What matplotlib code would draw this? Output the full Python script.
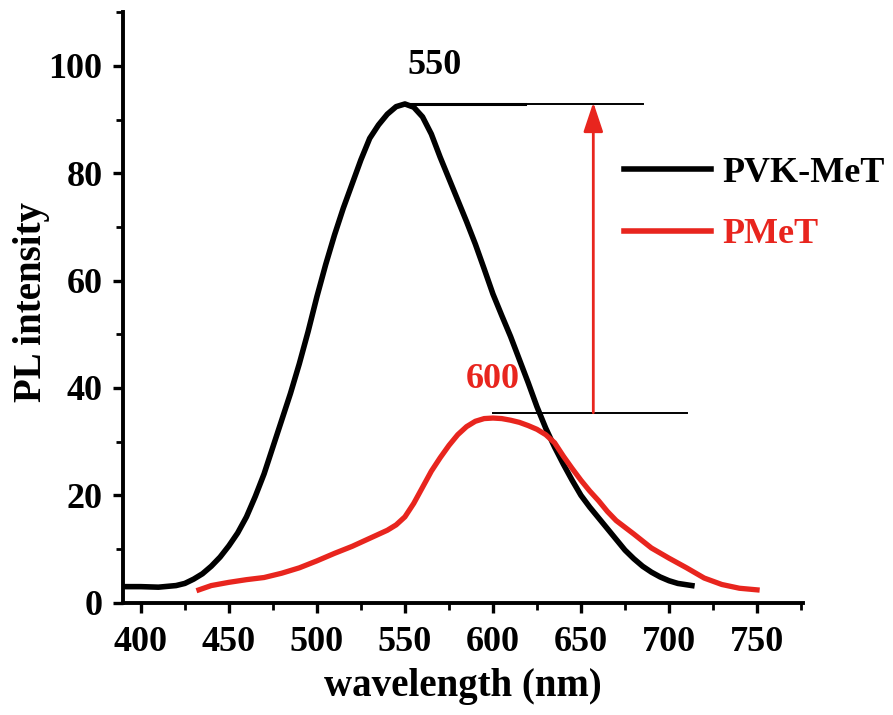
import matplotlib.pyplot as plt
import numpy as np
from matplotlib.ticker import MultipleLocator

plt.rcParams['font.family'] = ['Liberation Serif', 'DejaVu Serif']
plt.rcParams['font.weight'] = 'bold'
plt.rcParams['axes.labelweight'] = 'bold'

# PVK-MeT spectrum
wl_pvk = [390, 400, 410, 420, 425, 430, 435, 440, 445, 450, 455, 460, 465, 470,
          475, 480, 485, 490, 495, 500, 505, 510, 515, 520, 525, 530, 535, 540,
          545, 550, 555, 560, 565, 570, 575, 580, 585, 590, 595, 600, 605, 610,
          615, 620, 625, 630, 635, 640, 645, 650, 655, 660, 665, 670, 675, 680,
          685, 690, 695, 700, 705, 713]
pl_pvk = [3, 3, 2.9, 3.2, 3.6, 4.4, 5.4, 6.8, 8.5, 10.6, 13, 16, 19.8, 24,
          29, 34, 39, 44.5, 50.5, 57, 63, 68.5, 73.5, 78, 82.5, 86.5, 89, 91,
          92.4, 92.9, 92.3, 90.5, 87.3, 83, 79, 75, 71, 66.8, 62.2, 57.5, 53.5, 49.6,
          45.3, 41, 36.5, 32.5, 29, 25.8, 22.8, 20, 17.8, 15.8, 13.8, 11.8, 9.8, 8.2,
          6.8, 5.7, 4.8, 4.1, 3.6, 3.2]

# PMeT spectrum
wl_pmet = [433, 440, 450, 460, 470, 480, 490, 500, 510, 520, 530, 540, 545, 550,
           555, 560, 565, 570, 575, 580, 585, 590, 595, 600, 605, 610, 615, 620,
           625, 630, 635, 640, 645, 650, 655, 660, 665, 670, 680, 690, 700, 710,
           720, 730, 740, 750]
pl_pmet = [2.4, 3.2, 3.8, 4.3, 4.7, 5.5, 6.5, 7.8, 9.2, 10.5, 12, 13.5, 14.5, 16,
           18.5, 21.5, 24.5, 27, 29.3, 31.3, 32.8, 33.8, 34.3, 34.4, 34.3, 34, 33.6, 33,
           32.3, 31.3, 29.8, 27.3, 25, 22.8, 20.8, 19, 17, 15.3, 12.8, 10.2, 8.3, 6.5,
           4.6, 3.4, 2.7, 2.4]

peak_pvk = (550, 92.9)
peak_pmet = (600, 35.4)
arrow_x = 657
red = '#e8251e'

fig = plt.figure(figsize=(8.93, 7.15), dpi=100)
ax = fig.add_axes([0.138, 0.157, 0.761, 0.826])

ax.plot(wl_pvk, pl_pvk, color='black', lw=4, label='PVK-MeT', solid_joinstyle='round')
ax.plot(wl_pmet, pl_pmet, color=red, lw=3.8, label='PMeT', solid_joinstyle='round')

# peak guide lines
ax.plot([peak_pvk[0], 618], [peak_pvk[1]] * 2, color='black', lw=2.2)
ax.plot([618, 685], [peak_pvk[1]] * 2, color='black', lw=1.4)
ax.plot([peak_pmet[0], 710], [peak_pmet[1]] * 2, color='black', lw=1.4)
ax.annotate('', xy=(arrow_x, peak_pvk[1] + 0.3), xytext=(arrow_x, peak_pmet[1]),
            arrowprops=dict(arrowstyle='-|>,head_length=0.9,head_width=0.3',
                            color=red, lw=2, mutation_scale=20, shrinkA=0, shrinkB=0))

ax.text(567, 100, '550', fontsize=26, ha='center', va='center', color='black')
ax.text(600, 41.5, '600', fontsize=26, ha='center', va='center', color=red)

ax.set_xlim(390, 776)
ax.set_ylim(0, 110)
ax.xaxis.set_major_locator(MultipleLocator(50))
ax.xaxis.set_minor_locator(MultipleLocator(25))
ax.yaxis.set_major_locator(MultipleLocator(20))
ax.yaxis.set_minor_locator(MultipleLocator(10))

for s in ['top', 'right']:
    ax.spines[s].set_visible(False)
for s in ['left', 'bottom']:
    ax.spines[s].set_linewidth(2.8)

ax.tick_params(which='major', direction='out', length=7, width=2.4, labelsize=26)
ax.tick_params(axis='x', which='major', pad=10)
ax.tick_params(axis='y', which='major', pad=8)
ax.tick_params(which='minor', direction='out', length=5, width=2)

ax.set_xlabel('wavelength (nm)', fontsize=28, labelpad=6)
ax.set_ylabel('PL intensity', fontsize=28, va='center')
ax.yaxis.set_label_coords(-0.135, 0.51)

leg = ax.legend(loc='upper left', bbox_to_anchor=(0.679, 0.806), bbox_transform=fig.transFigure,
                frameon=False, borderpad=0, fontsize=26, handlelength=2.4,
                handletextpad=0.3, labelspacing=0.78)
for t, c in zip(leg.get_texts(), ['black', red]):
    t.set_color(c)
for h in leg.get_lines():
    h.set_linewidth(4)

fig.savefig('out.png', dpi=100)
